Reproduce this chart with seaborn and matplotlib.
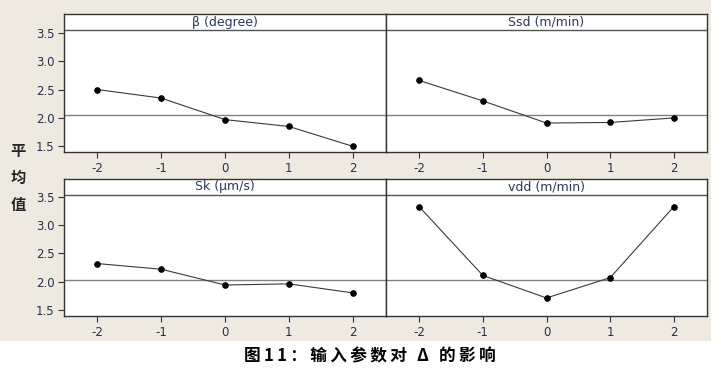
import numpy as np
import pandas as pd
import matplotlib
matplotlib.use("Agg")
import matplotlib.pyplot as plt
import matplotlib.transforms as mtransforms
from matplotlib.patches import Rectangle
import seaborn as sns

# levels and mean response for each factor
levels = [-2, -1, 0, 1, 2]
beta_mean = [2.50, 2.35, 1.97, 1.85, 1.50]
ssd_mean = [2.66, 2.30, 1.91, 1.92, 2.00]
sk_mean = [2.32, 2.22, 1.94, 1.96, 1.80]
vdd_mean = [3.33, 2.11, 1.71, 2.07, 3.33]
panel_titles = ["β (degree)", "Ssd (m/min)", "Sk (µm/s)", "vdd (m/min)"]
ref_mean = [2.05, 2.05, 2.03, 2.03]
yticks = [1.5, 2.0, 2.5, 3.0, 3.5]
ylabel_chars = ["平", "均", "值"]
caption = "图11： 输入参数对 Δ 的影响"

df = pd.DataFrame({
    "level": levels * 4,
    "mean": beta_mean + ssd_mean + sk_mean + vdd_mean,
    "factor": np.repeat(panel_titles, len(levels)),
})

sns.set_style("ticks")
plt.rcParams["font.family"] = ["DejaVu Sans"]

W, H = 721, 380
fig = plt.figure(figsize=(W / 100, H / 100), dpi=100, facecolor="white")

# beige window background (behind the axes)
fig.patches.append(Rectangle((0, 1 - 341 / H), 711 / W, 341 / H,
                             transform=fig.transFigure, facecolor="#EEEAE0",
                             edgecolor="none", zorder=-10))

# panel boxes in pixels: (left, top, right, bottom), ylim
boxes = [
    (64, 14, 386, 152, (1.40, 3.83)),
    (386, 14, 707, 152, (1.40, 3.83)),
    (64, 179, 386, 316, (1.39, 3.82)),
    (386, 179, 707, 316, (1.39, 3.82)),
]
tick_col = "#23304f"

for i, (l, t, r, b, ylim) in enumerate(boxes):
    ax = fig.add_axes([l / W, 1 - b / H, (r - l) / W, (b - t) / H])
    ax.set_facecolor("white")
    sub = df[df["factor"] == panel_titles[i]]
    ax.axhline(ref_mean[i], color="#808080", lw=1.0, zorder=1)
    sns.lineplot(data=sub, x="level", y="mean", ax=ax, color="#3a3a3a",
                 lw=0.8, marker="o", markersize=4, markerfacecolor="black",
                 markeredgecolor="black", zorder=3)
    ax.set_xlim(-2.52, 2.52)
    ax.set_ylim(*ylim)
    ax.set_xticks(levels)
    ax.set_xticklabels([str(v) for v in levels])
    ax.set_xlabel("")
    ax.set_ylabel("")
    # strip header
    ax.axhline(3.54, color="#555555", lw=1.0, zorder=2)
    trans = mtransforms.blended_transform_factory(ax.transAxes, ax.transData)
    ax.text(0.5, (3.54 + ylim[1]) / 2, panel_titles[i], transform=trans,
            ha="center", va="center", fontsize=9, color="#2a3760")
    if i % 2 == 0:
        ax.set_yticks(yticks)
        ax.set_yticklabels([f"{v:.1f}" for v in yticks])
    else:
        ax.set_yticks([])
    ax.tick_params(axis="both", direction="out", length=4, width=0.8,
                   colors="#333333", labelcolor=tick_col, labelsize=8.5, pad=3)
    for sp in ax.spines.values():
        sp.set_visible(True)
        sp.set_color("#333333")
        sp.set_linewidth(1.0)

cjk = ["Noto Sans CJK SC", "DejaVu Sans"]
for j, ch in enumerate(ylabel_chars):
    fig.text(18 / W, 1 - (151 + j * 27) / H, ch, ha="center", va="center",
             fontsize=11, fontweight="bold", family=cjk)

# caption with loose letter spacing (thin spaces come from DejaVu Sans)
spaced = "\u2009".join(caption.replace(" ", ""))
spaced = spaced.replace("\u2009Δ\u2009", "\u2009\u2009\u2009Δ\u2009\u2009\u2009")
fig.text(370 / W, 1 - 356 / H, spaced, ha="center", va="center", fontsize=12,
         fontweight="bold", family=cjk, color="black")

fig.savefig("out.png", dpi=100, facecolor=fig.get_facecolor())
